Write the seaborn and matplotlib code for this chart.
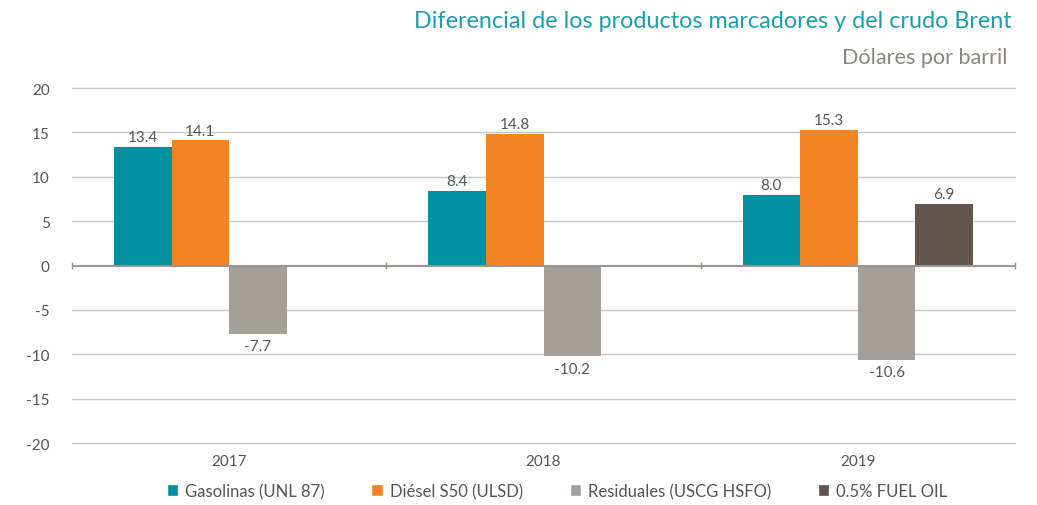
import matplotlib
matplotlib.use("Agg")
import matplotlib.pyplot as plt
import seaborn as sns
import pandas as pd
import numpy as np
from matplotlib.patches import Patch

years = ["2017", "2018", "2019"]
series = ["Gasolinas (UNL 87)", "Diésel S50 (ULSD)", "Residuales (USCG HSFO)", "0.5% FUEL OIL"]
gasolinas = [13.4, 8.4, 8.0]
diesel = [14.1, 14.8, 15.3]
residuales = [-7.7, -10.2, -10.6]
fuel_oil = [np.nan, np.nan, 6.9]
colors = ["#0090a0", "#f28322", "#a59f9a", "#62554e"]

rows = []
for name, vals in zip(series, [gasolinas, diesel, residuales, fuel_oil]):
    for y, v in zip(years, vals):
        rows.append({"year": y, "serie": name, "value": v})
df = pd.DataFrame(rows)

sns.set_theme(style="white")
plt.rcParams['font.family'] = ['Lato', 'DejaVu Sans']

fig = plt.figure(figsize=(10.37, 5.06), dpi=100)
ax = fig.add_axes([72/1037, 1-444/506, (1015-72)/1037, (444-89)/506])

sns.barplot(data=df, x="year", y="value", hue="serie", hue_order=series,
            order=years, palette=colors, width=0.733, saturation=1,
            ax=ax, legend=False, linewidth=0, errorbar=None)

ax.set_ylim(-20, 20)
ax.set_xlim(-0.5, 2.5)
ax.set_yticks(range(-20, 21, 5))
ax.set_yticklabels([str(t) for t in range(-20, 21, 5)], color="#555555", fontsize=11)
ax.tick_params(axis="y", length=0, pad=16)
ax.tick_params(axis="x", length=0, pad=8, labelsize=11, labelcolor="#555555")
for t in range(-20, 21, 5):
    if t != 0:
        ax.axhline(t, color="#c8c5c2", lw=1, zorder=0, clip_on=False)
ax.axhline(0, color="#9a9590", lw=1.5, zorder=3)
ax.vlines([-0.5, 0.5, 1.5, 2.5], -0.4, 0.4, color="#9a9590", lw=1, zorder=3, clip_on=False)
for s in ax.spines.values():
    s.set_visible(False)
ax.set_xlabel("")
ax.set_ylabel("")

for cont in ax.containers:
    for bar in cont:
        h = bar.get_height()
        if np.isnan(h) or h == 0:
            continue
        x = bar.get_x() + bar.get_width() / 2
        if h > 0:
            ax.annotate(f"{h:.1f}", (x, h), xytext=(0, 2), textcoords="offset points",
                        ha="center", va="bottom", fontsize=11, color="#555555")
        else:
            ax.annotate(f"{h:.1f}", (x, h), xytext=(0, -4), textcoords="offset points",
                        ha="center", va="top", fontsize=11, color="#555555")

fig.text(1012/1037, 1-22/506, "Diferencial de los productos marcadores y del crudo Brent",
         ha="right", va="center", fontsize=16.8, color="#1a9fb0")
fig.text(1008/1037, 1-58/506, "Dólares por barril",
         ha="right", va="center", fontsize=15.6, color="#8a8580")

handles = [Patch(facecolor=c, label=s) for c, s in zip(colors, series)]
fig.legend(handles=handles, loc="center", bbox_to_anchor=(557/1037, 1-492/506), ncol=4,
           frameon=False, fontsize=12, handlelength=0.7, handleheight=0.7,
           columnspacing=2.8, handletextpad=0.4, labelcolor="#555555")

fig.savefig("out.png", dpi=100)
